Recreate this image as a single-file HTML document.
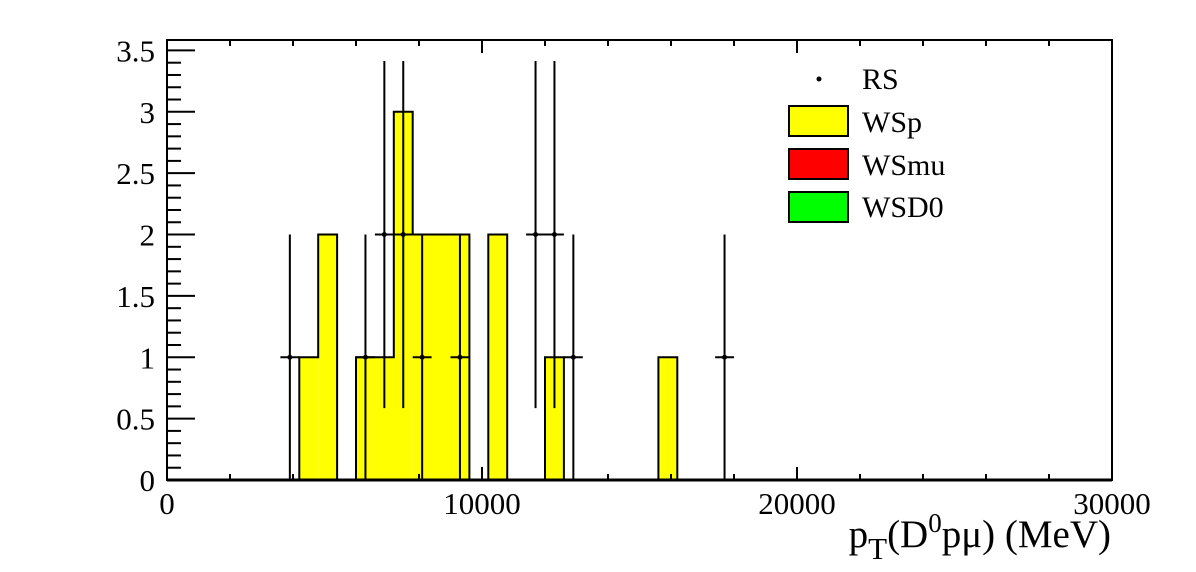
<!DOCTYPE html>
<html><head><meta charset="utf-8"><style>
html,body{margin:0;padding:0;background:#fff;}
svg{display:block;font-family:"Liberation Serif",serif;}
</style></head><body>
<svg id="chart" width="1196" height="572" viewBox="0 0 1196 572" xmlns="http://www.w3.org/2000/svg">
<rect width="1196" height="572" fill="#fff"/>
<g id="hist"></g>
<g id="pts"></g>
<g id="axes"></g>
<g id="legend">
  <circle cx="819" cy="79" r="2.5" fill="#000"/>
  <text x="862" y="89" font-size="30">RS</text>
  <rect x="789" y="106" width="59" height="30" fill="#ffff00" stroke="#000" stroke-width="2"/>
  <text x="862" y="132" font-size="30">WSp</text>
  <rect x="789" y="149" width="59" height="30" fill="#ff0000" stroke="#000" stroke-width="2"/>
  <text x="862" y="175" font-size="30">WSmu</text>
  <rect x="789" y="192" width="59" height="30" fill="#00ff00" stroke="#000" stroke-width="2"/>
  <text x="862" y="217" font-size="30">WSD0</text>
</g>
<text x="1111" y="547" font-size="39" text-anchor="end">p<tspan font-size="31" dy="12">T</tspan><tspan dy="-12">(D</tspan><tspan font-size="27" dy="-15">0</tspan><tspan dy="15">pμ) (MeV)</tspan></text>
</svg>
<script>
const binLow = 0, binHigh = 30000, nBins = 50;
const wspBins = [7, 8, 10, 11, 12, 13, 14, 15, 17, 20, 26];
const wspValues = [1, 2, 1, 1, 3, 2, 2, 2, 2, 1, 1];
const rsBins = [6, 10, 11, 12, 13, 15, 19, 20, 21, 29];
const rsValues = [1, 1, 2, 2, 1, 1, 2, 2, 1, 1];
const xTicks = [0, 10000, 20000, 30000];
const yTicks = [0, 0.5, 1, 1.5, 2, 2.5, 3, 3.5];
const yMax = 3.585;

const L = 167, R = 1112, T = 40, B = 480;
const NS = 'http://www.w3.org/2000/svg';
const xs = v => L + (v - binLow) / (binHigh - binLow) * (R - L);
const ys = v => B - v / yMax * (B - T);
const bw = (binHigh - binLow) / nBins;
function mk(tag, attrs, parent) {
  const e = document.createElementNS(NS, tag);
  for (const k in attrs) e.setAttribute(k, attrs[k]);
  parent.appendChild(e);
  return e;
}
const hist = document.getElementById('hist');
const full = new Array(nBins).fill(0);
wspBins.forEach((b, i) => { full[b] = wspValues[i]; });
wspBins.forEach((b, i) => {
  const r = mk('rect', {x: xs(b * bw), y: ys(wspValues[i]), width: xs((b + 1) * bw) - xs(b * bw), height: ys(0) - ys(wspValues[i]), fill: '#ffff00'}, hist);
  
  
});
let d = 'M' + xs(0) + ' ' + ys(0);
for (let b = 0; b < nBins; b++) {
  d += ' L' + xs(b * bw) + ' ' + ys(full[b]) + ' L' + xs((b + 1) * bw) + ' ' + ys(full[b]);
}
const outline = mk('path', {d: d, fill: 'none', stroke: '#000', 'stroke-width': 2}, hist);



const pts = document.getElementById('pts');
rsBins.forEach((b, i) => {
  const v = rsValues[i], e = Math.sqrt(v);
  const cx = xs((b + 0.5) * bw);
  const g = mk('g', {}, pts);
  
  
  mk('line', {x1: xs(b * bw), x2: xs((b + 1) * bw), y1: ys(v), y2: ys(v), stroke: '#000', 'stroke-width': 2}, g);
  mk('line', {x1: cx, x2: cx, y1: ys(Math.min(v + e, yMax)), y2: ys(Math.max(v - e, 0)), stroke: '#000', 'stroke-width': 2}, g);
  mk('circle', {cx: cx, cy: ys(v), r: 2.5, fill: '#000'}, g);
});

const ax = document.getElementById('axes');
const frame = mk('rect', {x: L, y: T, width: R - L, height: B - T, fill: 'none', stroke: '#000', 'stroke-width': 2}, ax);


mk('line', {x1: L, x2: R, y1: B, y2: B, stroke: '#000', 'stroke-width': 3}, ax);
for (let v = 0; v <= 30000; v += 2000) {
  const major = v % 10000 === 0, len = major ? 13 : 6;
  mk('line', {x1: xs(v), x2: xs(v), y1: B, y2: B - len, stroke: '#000', 'stroke-width': 2}, ax);
  mk('line', {x1: xs(v), x2: xs(v), y1: T, y2: T + len, stroke: '#000', 'stroke-width': 2}, ax);
}
xTicks.forEach(v => {
  const t = mk('text', {x: xs(v), y: 514, 'font-size': 31, 'text-anchor': 'middle'}, ax);
  
  
  t.textContent = v;
});
for (let k = 0; k <= 35; k++) {
  const v = k / 10, major = k % 5 === 0, len = major ? 28 : 14;
  mk('line', {x1: L, x2: L + len, y1: ys(v), y2: ys(v), stroke: '#000', 'stroke-width': 2}, ax);
}
yTicks.forEach(v => {
  const t = mk('text', {x: 155, y: ys(v) + 11, 'font-size': 31, 'text-anchor': 'end'}, ax);
  
  
  t.textContent = v;
});
</script>
</body></html>
